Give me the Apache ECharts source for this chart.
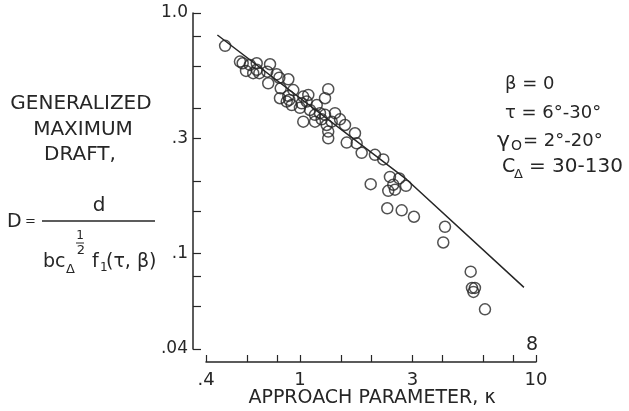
<!DOCTYPE html>
<html>
<head>
<meta charset="utf-8">
<script src="https://cdn.jsdelivr.net/npm/echarts@6/dist/echarts.min.js"></script>
<style>
html,body{margin:0;padding:0;background:#fff;}
#chart{width:629px;height:411px;}
</style>
</head>
<body>
<div id="chart"></div>
<script>
// ---- data ----
const kappa = [0.482,0.557,0.572,0.591,0.614,0.656,0.656,0.634,0.673,0.747,0.727,0.797,0.818,0.734,0.893,0.829,0.937,0.823,0.901,1.033,0.923,1.000,0.893,0.879,1.085,1.318,1.277,1.017,1.068,1.033,1.103,1.178,1.158,1.216,1.236,1.277,1.408,1.298,1.363,1.478,1.552,1.318,1.711,1.158,1.318,1.578,1.739,1.826,2.079,2.254,2.406,2.635,1.994,2.485,2.813,2.367,2.527,2.344,2.698,3.041,4.116,4.047,5.288,5.355,5.512,5.433,6.080];
const draft = [0.730,0.628,0.618,0.574,0.608,0.618,0.580,0.562,0.562,0.612,0.570,0.556,0.538,0.510,0.530,0.486,0.478,0.442,0.435,0.449,0.414,0.403,0.452,0.428,0.456,0.482,0.442,0.421,0.428,0.353,0.395,0.414,0.377,0.383,0.361,0.377,0.383,0.342,0.353,0.361,0.342,0.321,0.316,0.353,0.301,0.289,0.287,0.262,0.257,0.246,0.208,0.205,0.194,0.193,0.191,0.182,0.184,0.154,0.151,0.142,0.129,0.111,0.0839,0.0718,0.0718,0.0691,0.0585];
const lineKappa = [0.447, 2.83, 8.89];
const lineDraft = [0.81, 0.203, 0.0722];
const xTicks = [0.4,0.6,0.8,1,1.5,2,3,4,6,8,10];
const xLabelVals = [0.4,1,3,10];
const xLabelText = ['.4','1','3','10'];
const yTicks = [0.04,0.06,0.08,0.1,0.15,0.2,0.3,0.4,0.6,0.8,1.0];
const yLabelVals = [0.04,0.1,0.3,1.0];
const yLabelText = ['.04','.1','.3','1.0'];

const L = Math.log10;
const INK = '#262626';
const FONT = '"DejaVu Sans", sans-serif';

function labelFor(vals, texts){
  return function(v){
    for (let i=0;i<vals.length;i++){ if (Math.abs(L(vals[i])-v) < 1e-6) return texts[i]; }
    return '';
  };
}
function txt(text, x, y, size, align){
  return {type:'text', x:x, y:y, silent:true,
    style:{text:text, fill:INK, fontSize:size, fontFamily:FONT, align:align||'left', verticalAlign:'middle'}};
}

const chart = echarts.init(document.getElementById('chart'), null, {renderer:'canvas'});
const option = {
  backgroundColor:'#fff',
  animation:false,
  grid:{left:206, top:13, width:330, height:336},
  xAxis:{
    type:'value', min:L(0.4), max:L(10), position:'bottom', offset:13,
    axisLine:{show:true, onZero:false, lineStyle:{color:INK, width:1.5}},
    axisTick:{show:true, inside:true, length:7, lineStyle:{color:INK, width:1.2}, customValues:xTicks.map(L)},
    axisLabel:{show:true, margin:9, color:INK, fontSize:18, fontFamily:FONT, customValues:xLabelVals.map(L), formatter:labelFor(xLabelVals, xLabelText)},
    splitLine:{show:false}
  },
  yAxis:{
    type:'value', min:L(0.04), max:L(1.0), position:'left', offset:13,
    axisLine:{show:true, onZero:false, lineStyle:{color:INK, width:1.5}},
    axisTick:{show:true, inside:true, length:8, lineStyle:{color:INK, width:1.2}, customValues:yTicks.map(L)},
    axisLabel:{show:true, margin:5, color:INK, fontSize:17, fontFamily:FONT, customValues:yLabelVals.map(L), formatter:labelFor(yLabelVals, yLabelText)},
    splitLine:{show:false}
  },
  series:[
    {type:'line', data:lineKappa.map((k,i)=>[L(k), L(lineDraft[i])]), symbol:'none', lineStyle:{color:INK, width:1.5}, z:1},
    {type:'scatter', data:kappa.map((k,i)=>[L(k), L(draft[i])]), symbol:'circle', symbolSize:11,
      itemStyle:{color:'rgba(0,0,0,0)', borderColor:INK, borderWidth:1.5}, z:2}
  ],
  graphic:[
    txt('GENERALIZED', 81, 104, 20, 'center'),
    txt('MAXIMUM', 83, 130, 20, 'center'),
    txt('DRAFT,', 80, 155, 20, 'center'),
    txt('D', 7, 222, 19, 'left'),
    txt('=', 25, 222, 13, 'left'),
    txt('d', 99, 206, 20, 'center'),
    {type:'line', silent:true, shape:{x1:42, y1:221, x2:155, y2:221}, style:{stroke:INK, lineWidth:1.3}},
    txt('bc', 43, 262, 19, 'left'),
    txt('Δ', 66, 270, 13, 'left'),
    txt('1', 80, 236, 12, 'center'),
    {type:'line', silent:true, shape:{x1:76, y1:243, x2:84, y2:243}, style:{stroke:INK, lineWidth:1}},
    txt('2', 81, 251, 13, 'center'),
    txt('f', 92, 262, 19, 'left'),
    txt('1', 100, 268, 12, 'left'),
    txt('(τ, β)', 106, 262, 19, 'left'),
    txt('β = 0', 505, 84, 18, 'left'),
    txt('τ = 6°-30°', 505, 113, 18, 'left'),
    txt('γ', 497, 141, 22, 'left'),
    txt('O', 511, 146, 14, 'left'),
    txt('= 2°-20°', 523, 141, 18, 'left'),
    txt('C', 502, 167, 19, 'left'),
    txt('Δ', 514, 175, 13, 'left'),
    txt('= 30-130', 529, 167, 20, 'left'),
    txt('8', 532, 345, 19, 'center'),
    txt('APPROACH PARAMETER, κ', 372, 398, 19, 'center')
  ]
};
chart.setOption(option);
</script>
</body>
</html>
